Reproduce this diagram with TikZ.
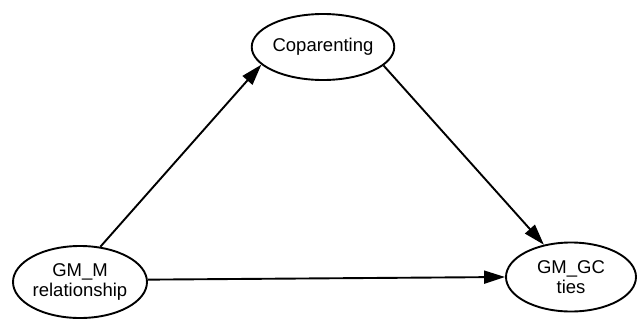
\documentclass[tikz,border=0pt]{standalone}
\usepackage{fontspec}
\setmainfont{Liberation Sans}
\usetikzlibrary{shapes.geometric,arrows.meta}
\begin{document}
\begin{tikzpicture}[x=1pt,y=-1pt,
  ovalnode/.style={draw,ellipse,line width=1.9pt,inner sep=0pt,
    minimum width=132pt,minimum height=68pt,align=center,
    font=\fontsize{18.5}{20.5}\selectfont},
  conn/.style={line width=1.9pt,-{Triangle[length=21pt,width=13pt]}}]
\useasboundingbox (0,0) rectangle (640,322);
\node[ovalnode,minimum width=130pt,minimum height=66pt] (cop) at (323,47) {Coparenting};
\node[ovalnode,minimum width=134pt,minimum height=72pt] (gmm) at (80,282) {GM\_M\\relationship};
\node[ovalnode,minimum width=130pt,minimum height=69pt] (gmgc) at (571,277) {GM\_GC\\ties};
\draw[conn] (gmm.60) -- (cop.196);
\draw[conn] (cop.343) -- (gmgc.130);
\draw[conn] (gmm.2.5) -- (gmgc.180);
\end{tikzpicture}
\end{document}
